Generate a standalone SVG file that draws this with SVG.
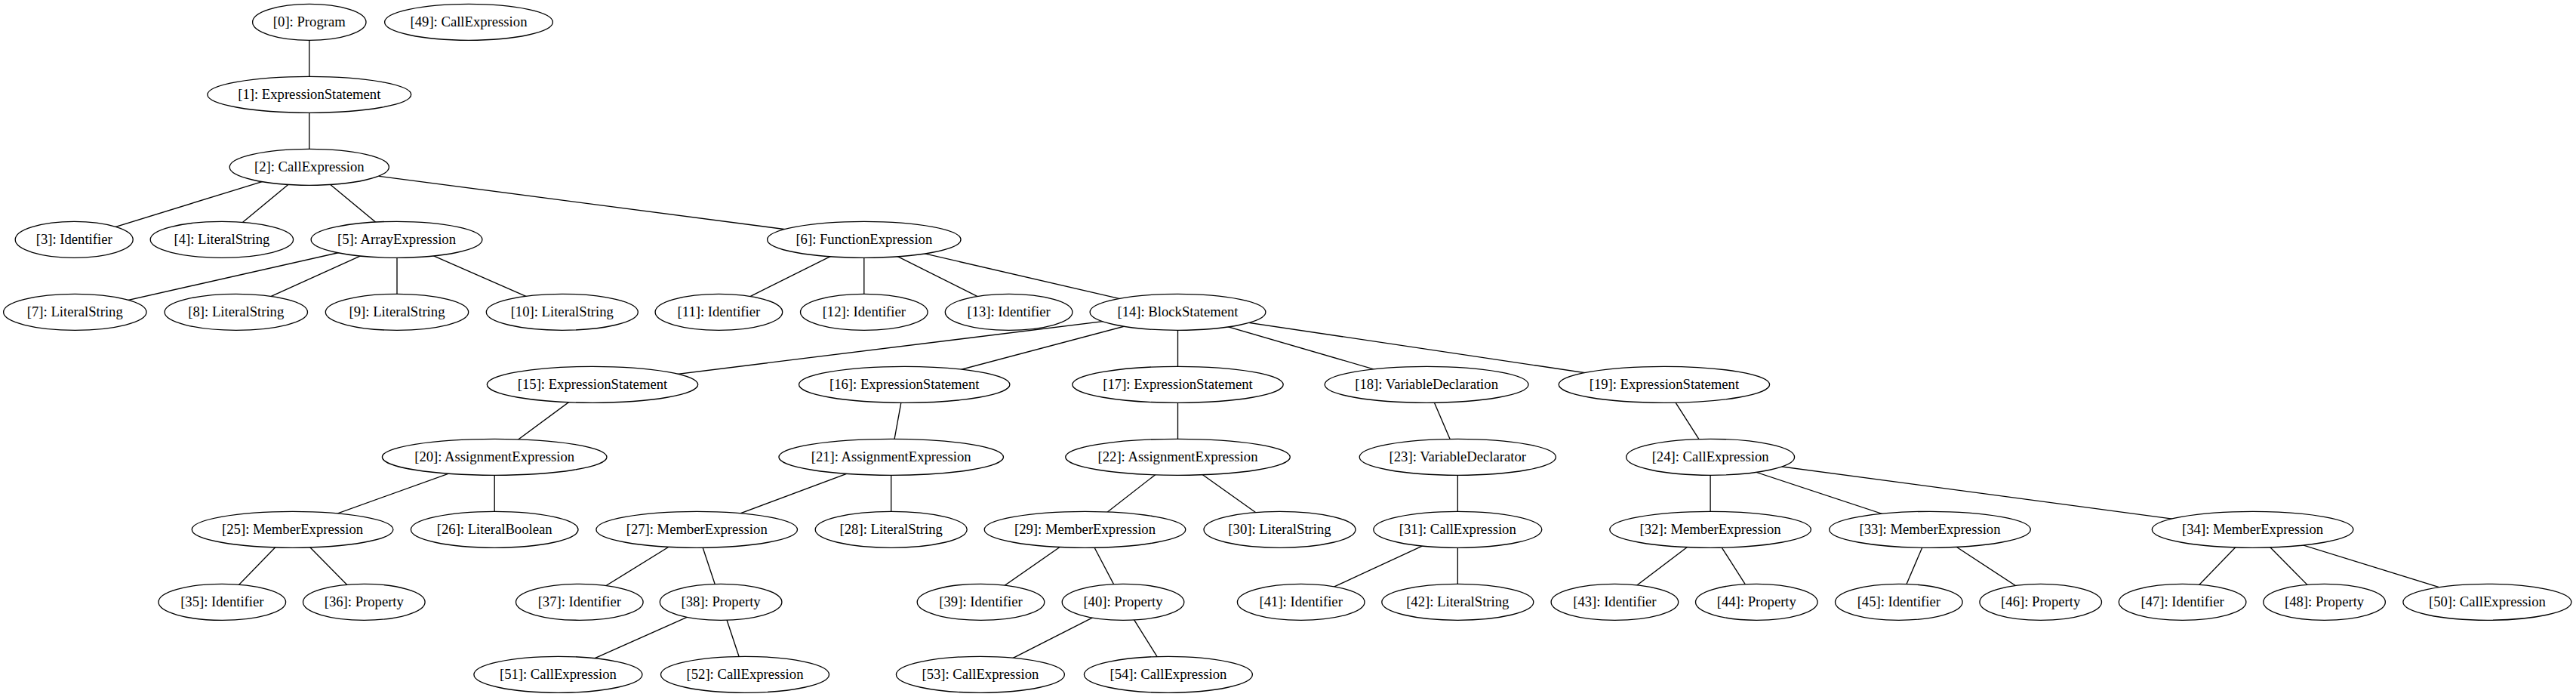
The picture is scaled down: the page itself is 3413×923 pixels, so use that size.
<svg xmlns="http://www.w3.org/2000/svg" width="3413" height="923" viewBox="0 0 3413 923">
<style>
.e line{stroke:#000;stroke-width:1.33;fill:none}
.n ellipse{fill:#fff;stroke:#000;stroke-width:1.33}
.n text{font-family:"Liberation Serif","Times New Roman",serif;font-size:18.67px;text-anchor:middle;fill:#000}
</style>
<rect x="0" y="0" width="3413" height="923" fill="#fff"/>
<g id="edges" class="e">
<line x1="409.8" y1="29.3" x2="409.8" y2="125.3"/>
<line x1="409.8" y1="125.3" x2="409.8" y2="221.3"/>
<line x1="409.8" y1="221.3" x2="98.2" y2="317.3"/>
<line x1="409.8" y1="221.3" x2="293.9" y2="317.3"/>
<line x1="409.8" y1="221.3" x2="525.5" y2="317.3"/>
<line x1="409.8" y1="221.3" x2="1144.8" y2="317.3"/>
<line x1="525.5" y1="317.3" x2="99.3" y2="413.3"/>
<line x1="525.5" y1="317.3" x2="312.8" y2="413.3"/>
<line x1="526" y1="317.3" x2="526" y2="413.3"/>
<line x1="525.5" y1="317.3" x2="744.8" y2="413.3"/>
<line x1="1144.8" y1="317.3" x2="952.4" y2="413.3"/>
<line x1="1144.8" y1="317.3" x2="1144.8" y2="413.3"/>
<line x1="1144.8" y1="317.3" x2="1336.6" y2="413.3"/>
<line x1="1144.8" y1="317.3" x2="1560.5" y2="413.3"/>
<line x1="1560.5" y1="413.3" x2="785" y2="509.3"/>
<line x1="1560.5" y1="413.3" x2="1198.2" y2="509.3"/>
<line x1="1560.5" y1="413.3" x2="1560.5" y2="509.3"/>
<line x1="1560.5" y1="413.3" x2="1890.1" y2="509.3"/>
<line x1="1560.5" y1="413.3" x2="2204.9" y2="509.3"/>
<line x1="785" y1="509.3" x2="655.2" y2="605.3"/>
<line x1="1198.2" y1="509.3" x2="1180.7" y2="605.3"/>
<line x1="1560.5" y1="509.3" x2="1560.5" y2="605.3"/>
<line x1="1890.1" y1="509.3" x2="1931.3" y2="605.3"/>
<line x1="2204.9" y1="509.3" x2="2266.1" y2="605.3"/>
<line x1="655.2" y1="605.3" x2="387.6" y2="701.3"/>
<line x1="655.2" y1="605.3" x2="655.2" y2="701.3"/>
<line x1="1180.7" y1="605.3" x2="923.2" y2="701.3"/>
<line x1="1180.7" y1="605.3" x2="1180.7" y2="701.3"/>
<line x1="1560.5" y1="605.3" x2="1437.5" y2="701.3"/>
<line x1="1560.5" y1="605.3" x2="1695.5" y2="701.3"/>
<line x1="1931.3" y1="605.3" x2="1931.3" y2="701.3"/>
<line x1="2266.1" y1="605.3" x2="2266.1" y2="701.3"/>
<line x1="2266.1" y1="605.3" x2="2557" y2="701.3"/>
<line x1="2266.1" y1="605.3" x2="2984.6" y2="701.3"/>
<line x1="387.6" y1="701.3" x2="294.3" y2="797.3"/>
<line x1="387.6" y1="701.3" x2="482.3" y2="797.3"/>
<line x1="923.2" y1="701.3" x2="767.8" y2="797.3"/>
<line x1="923.2" y1="701.3" x2="955.1" y2="797.3"/>
<line x1="1437.5" y1="701.3" x2="1299.5" y2="797.3"/>
<line x1="1437.5" y1="701.3" x2="1488" y2="797.3"/>
<line x1="1931.3" y1="701.3" x2="1723.7" y2="797.3"/>
<line x1="1931.3" y1="701.3" x2="1931.3" y2="797.3"/>
<line x1="2266.1" y1="701.3" x2="2139.4" y2="797.3"/>
<line x1="2266.1" y1="701.3" x2="2327.3" y2="797.3"/>
<line x1="2557" y1="701.3" x2="2515.8" y2="797.3"/>
<line x1="2557" y1="701.3" x2="2703.7" y2="797.3"/>
<line x1="2984.6" y1="701.3" x2="2891.6" y2="797.3"/>
<line x1="2984.6" y1="701.3" x2="3079.6" y2="797.3"/>
<line x1="2984.6" y1="701.3" x2="3295.4" y2="797.3"/>
<line x1="955.1" y1="797.3" x2="739.4" y2="893.3"/>
<line x1="955.1" y1="797.3" x2="987" y2="893.3"/>
<line x1="1488" y1="797.3" x2="1298.9" y2="893.3"/>
<line x1="1488" y1="797.3" x2="1547.9" y2="893.3"/>
</g>
<g class="n">
<g id="node0"><ellipse cx="409.8" cy="29.3" rx="75.2" ry="24"/><text x="409.8" y="35.3">[0]: Program</text></g>
<g id="node49"><ellipse cx="621" cy="29.3" rx="111.4" ry="24"/><text x="621" y="35.3">[49]: CallExpression</text></g>
<g id="node1"><ellipse cx="409.8" cy="125.3" rx="134.9" ry="24"/><text x="409.8" y="131.3">[1]: ExpressionStatement</text></g>
<g id="node2"><ellipse cx="409.8" cy="221.3" rx="105.6" ry="24"/><text x="409.8" y="227.3">[2]: CallExpression</text></g>
<g id="node3"><ellipse cx="98.2" cy="317.3" rx="78" ry="24"/><text x="98.2" y="323.3">[3]: Identifier</text></g>
<g id="node4"><ellipse cx="293.9" cy="317.3" rx="94.7" ry="24"/><text x="293.9" y="323.3">[4]: LiteralString</text></g>
<g id="node5"><ellipse cx="525.5" cy="317.3" rx="113.4" ry="24"/><text x="525.5" y="323.3">[5]: ArrayExpression</text></g>
<g id="node6"><ellipse cx="1144.8" cy="317.3" rx="128.2" ry="24"/><text x="1144.8" y="323.3">[6]: FunctionExpression</text></g>
<g id="node7"><ellipse cx="99.3" cy="413.3" rx="94.7" ry="24"/><text x="99.3" y="419.3">[7]: LiteralString</text></g>
<g id="node8"><ellipse cx="312.8" cy="413.3" rx="94.7" ry="24"/><text x="312.8" y="419.3">[8]: LiteralString</text></g>
<g id="node9"><ellipse cx="526" cy="413.3" rx="94.7" ry="24"/><text x="526" y="419.3">[9]: LiteralString</text></g>
<g id="node10"><ellipse cx="744.8" cy="413.3" rx="100.5" ry="24"/><text x="744.8" y="419.3">[10]: LiteralString</text></g>
<g id="node11"><ellipse cx="952.4" cy="413.3" rx="84.3" ry="24"/><text x="952.4" y="419.3">[11]: Identifier</text></g>
<g id="node12"><ellipse cx="1144.8" cy="413.3" rx="84.3" ry="24"/><text x="1144.8" y="419.3">[12]: Identifier</text></g>
<g id="node13"><ellipse cx="1336.6" cy="413.3" rx="84.3" ry="24"/><text x="1336.6" y="419.3">[13]: Identifier</text></g>
<g id="node14"><ellipse cx="1560.5" cy="413.3" rx="116.4" ry="24"/><text x="1560.5" y="419.3">[14]: BlockStatement</text></g>
<g id="node15"><ellipse cx="785" cy="509.3" rx="139.7" ry="24"/><text x="785" y="515.3">[15]: ExpressionStatement</text></g>
<g id="node16"><ellipse cx="1198.2" cy="509.3" rx="139.7" ry="24"/><text x="1198.2" y="515.3">[16]: ExpressionStatement</text></g>
<g id="node17"><ellipse cx="1560.5" cy="509.3" rx="139.7" ry="24"/><text x="1560.5" y="515.3">[17]: ExpressionStatement</text></g>
<g id="node18"><ellipse cx="1890.1" cy="509.3" rx="134.9" ry="24"/><text x="1890.1" y="515.3">[18]: VariableDeclaration</text></g>
<g id="node19"><ellipse cx="2204.9" cy="509.3" rx="139.7" ry="24"/><text x="2204.9" y="515.3">[19]: ExpressionStatement</text></g>
<g id="node20"><ellipse cx="655.2" cy="605.3" rx="148.8" ry="24"/><text x="655.2" y="611.3">[20]: AssignmentExpression</text></g>
<g id="node21"><ellipse cx="1180.7" cy="605.3" rx="148.8" ry="24"/><text x="1180.7" y="611.3">[21]: AssignmentExpression</text></g>
<g id="node22"><ellipse cx="1560.5" cy="605.3" rx="148.8" ry="24"/><text x="1560.5" y="611.3">[22]: AssignmentExpression</text></g>
<g id="node23"><ellipse cx="1931.3" cy="605.3" rx="130.1" ry="24"/><text x="1931.3" y="611.3">[23]: VariableDeclarator</text></g>
<g id="node24"><ellipse cx="2266.1" cy="605.3" rx="111.5" ry="24"/><text x="2266.1" y="611.3">[24]: CallExpression</text></g>
<g id="node25"><ellipse cx="387.6" cy="701.3" rx="133.3" ry="24"/><text x="387.6" y="707.3">[25]: MemberExpression</text></g>
<g id="node26"><ellipse cx="655.2" cy="701.3" rx="110.8" ry="24"/><text x="655.2" y="707.3">[26]: LiteralBoolean</text></g>
<g id="node27"><ellipse cx="923.2" cy="701.3" rx="133.3" ry="24"/><text x="923.2" y="707.3">[27]: MemberExpression</text></g>
<g id="node28"><ellipse cx="1180.7" cy="701.3" rx="100.5" ry="24"/><text x="1180.7" y="707.3">[28]: LiteralString</text></g>
<g id="node29"><ellipse cx="1437.5" cy="701.3" rx="133.3" ry="24"/><text x="1437.5" y="707.3">[29]: MemberExpression</text></g>
<g id="node30"><ellipse cx="1695.5" cy="701.3" rx="100.5" ry="24"/><text x="1695.5" y="707.3">[30]: LiteralString</text></g>
<g id="node31"><ellipse cx="1931.3" cy="701.3" rx="111.5" ry="24"/><text x="1931.3" y="707.3">[31]: CallExpression</text></g>
<g id="node32"><ellipse cx="2266.1" cy="701.3" rx="133.3" ry="24"/><text x="2266.1" y="707.3">[32]: MemberExpression</text></g>
<g id="node33"><ellipse cx="2557" cy="701.3" rx="133.3" ry="24"/><text x="2557" y="707.3">[33]: MemberExpression</text></g>
<g id="node34"><ellipse cx="2984.6" cy="701.3" rx="133.3" ry="24"/><text x="2984.6" y="707.3">[34]: MemberExpression</text></g>
<g id="node35"><ellipse cx="294.3" cy="797.3" rx="84.3" ry="24"/><text x="294.3" y="803.3">[35]: Identifier</text></g>
<g id="node36"><ellipse cx="482.3" cy="797.3" rx="80.8" ry="24"/><text x="482.3" y="803.3">[36]: Property</text></g>
<g id="node37"><ellipse cx="767.8" cy="797.3" rx="84.3" ry="24"/><text x="767.8" y="803.3">[37]: Identifier</text></g>
<g id="node38"><ellipse cx="955.1" cy="797.3" rx="80.8" ry="24"/><text x="955.1" y="803.3">[38]: Property</text></g>
<g id="node39"><ellipse cx="1299.5" cy="797.3" rx="84.3" ry="24"/><text x="1299.5" y="803.3">[39]: Identifier</text></g>
<g id="node40"><ellipse cx="1488" cy="797.3" rx="80.8" ry="24"/><text x="1488" y="803.3">[40]: Property</text></g>
<g id="node41"><ellipse cx="1723.7" cy="797.3" rx="84.3" ry="24"/><text x="1723.7" y="803.3">[41]: Identifier</text></g>
<g id="node42"><ellipse cx="1931.3" cy="797.3" rx="100.5" ry="24"/><text x="1931.3" y="803.3">[42]: LiteralString</text></g>
<g id="node43"><ellipse cx="2139.4" cy="797.3" rx="84.3" ry="24"/><text x="2139.4" y="803.3">[43]: Identifier</text></g>
<g id="node44"><ellipse cx="2327.3" cy="797.3" rx="80.8" ry="24"/><text x="2327.3" y="803.3">[44]: Property</text></g>
<g id="node45"><ellipse cx="2515.8" cy="797.3" rx="84.3" ry="24"/><text x="2515.8" y="803.3">[45]: Identifier</text></g>
<g id="node46"><ellipse cx="2703.7" cy="797.3" rx="80.8" ry="24"/><text x="2703.7" y="803.3">[46]: Property</text></g>
<g id="node47"><ellipse cx="2891.6" cy="797.3" rx="84.3" ry="24"/><text x="2891.6" y="803.3">[47]: Identifier</text></g>
<g id="node48"><ellipse cx="3079.6" cy="797.3" rx="80.8" ry="24"/><text x="3079.6" y="803.3">[48]: Property</text></g>
<g id="node50"><ellipse cx="3295.4" cy="797.3" rx="111.5" ry="24"/><text x="3295.4" y="803.3">[50]: CallExpression</text></g>
<g id="node51"><ellipse cx="739.4" cy="893.3" rx="111.5" ry="24"/><text x="739.4" y="899.3">[51]: CallExpression</text></g>
<g id="node52"><ellipse cx="987" cy="893.3" rx="111.5" ry="24"/><text x="987" y="899.3">[52]: CallExpression</text></g>
<g id="node53"><ellipse cx="1298.9" cy="893.3" rx="111.5" ry="24"/><text x="1298.9" y="899.3">[53]: CallExpression</text></g>
<g id="node54"><ellipse cx="1547.9" cy="893.3" rx="111.5" ry="24"/><text x="1547.9" y="899.3">[54]: CallExpression</text></g>
</g>
</svg>
